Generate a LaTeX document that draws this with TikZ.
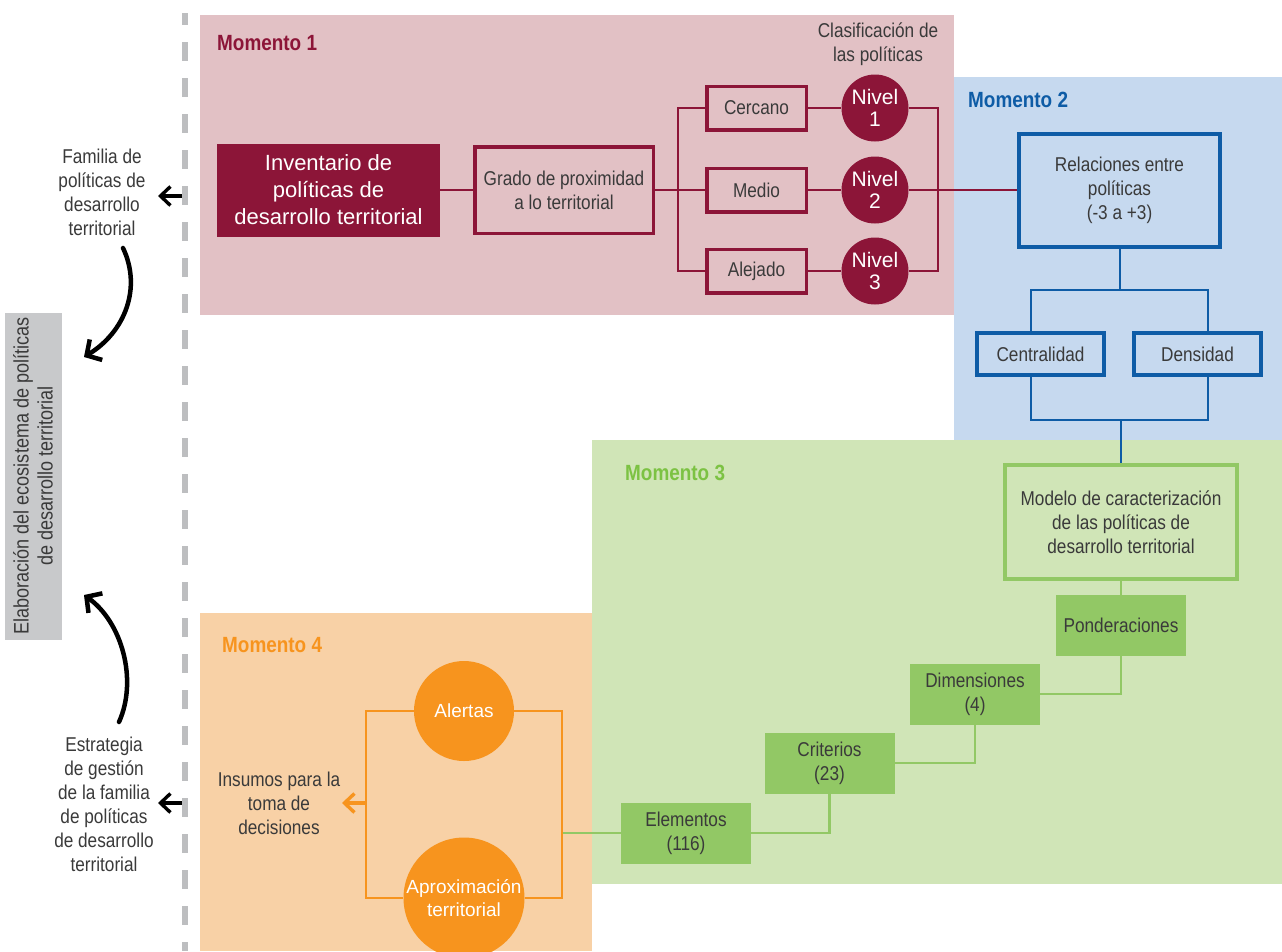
\documentclass[tikz,border=0pt]{standalone}
\usepackage{fontspec}
\setmainfont{Liberation Sans}[FakeStretch=0.86]
\newfontfamily\widefont{Liberation Sans}
\usetikzlibrary{arrows.meta}
\definecolor{mred}{HTML}{8C1538}
\definecolor{mredbg}{HTML}{E2C1C5}
\definecolor{mblue}{HTML}{0E5CA6}
\definecolor{mbluebg}{HTML}{C6D9EF}
\definecolor{mgreen}{HTML}{92C865}
\definecolor{mgreentxt}{HTML}{7CC243}
\definecolor{mgreenbg}{HTML}{D0E5B7}
\definecolor{morange}{HTML}{F7941E}
\definecolor{morangebg}{HTML}{F8D1A6}
\definecolor{mgray}{HTML}{C8C9CB}
\definecolor{mdash}{HTML}{BDBEC0}
\definecolor{mtext}{HTML}{3A3A3A}
\begin{document}
\begin{tikzpicture}[x=1pt,y=-1pt,
  txt/.style={text=mtext,align=center,inner sep=0pt,font=\fontsize{20}{24}\selectfont},
  title/.style={anchor=west,inner sep=0pt,font=\fontsize{22}{24}\selectfont\bfseries},
  redbox/.style={txt,draw=mred,line width=3.5pt},
  bluebox/.style={txt,draw=mblue,line width=4pt},
  greenbox/.style={txt,fill=mgreen,minimum width=130pt,minimum height=61pt},
  nivel/.style={circle,fill=mred,text=white,minimum size=67pt,inner sep=0pt,align=center,font=\widefont\fontsize{21}{22}\selectfont},
  ocirc/.style={circle,fill=morange,text=white,inner sep=0pt,align=center,font=\widefont\fontsize{19}{23}\selectfont},
  redline/.style={draw=mred,line width=2.3pt},
  blueline/.style={draw=mblue,line width=2pt},
  greenline/.style={draw=mgreen,line width=2.8pt},
  oline/.style={draw=morange,line width=2.8pt},
  barb/.style={-{Straight Barb[length=10pt,width=19pt]},line width=3.4pt},
  bigbarb/.style={-{Straight Barb[length=11pt,width=24pt]},line width=4.5pt,line cap=round}]
  \useasboundingbox (0,0) rectangle (1282,951);
  \clip (0,0) rectangle (1282,951);
  % panels
  \fill[mredbg] (200,15) rectangle (954,315);
  \fill[mbluebg] (954,77) rectangle (1282,440);
  \fill[mgreenbg] (592,440) rectangle (1282,884);
  \fill[morangebg] (200,613) rectangle (592,951);
  \draw[mdash,line width=6pt,dash pattern=on 19pt off 17pt,dash phase=7pt] (185,13) -- (185,951);
  % left side
  \fill[mgray] (5,313) rectangle (62,640);
  \node[txt,rotate=90,font=\fontsize{21}{24}\selectfont] (elab) at (33,476) {Elaboración del ecosistema de políticas\\de desarrollo territorial};
  \node[txt] (fam) at (102,192) {Familia de\\políticas de\\desarrollo\\territorial};
  \node[txt] (estr) at (104,804) {Estrategia\\de gestión\\de la familia\\de políticas\\de desarrollo\\territorial};
  \coordinate (d1) at (182,196);
  \coordinate (t1) at (158,196);
  \coordinate (d2) at (182,803);
  \coordinate (t2) at (158,803);
  \draw[barb] (d1) -- (t1);
  \draw[barb] (d2) -- (t2);
  \coordinate (c1) at (123,248);
  \coordinate (c2) at (84,357);
  \coordinate (c3) at (119,722);
  \coordinate (c4) at (84,595);
  \draw[bigbarb] (c1) .. controls (142,288) and (125,332) .. (c2);
  \draw[bigbarb] (c3) .. controls (138,680) and (122,622) .. (c4);
  % momento 1
  \node[title,text=mred] (m1) at (217,43) {Momento 1};
  \node[txt,fill=mred,text=white,minimum width=223pt,minimum height=93pt,font=\widefont\fontsize{22}{27}\selectfont] (inv) at (328.5,190) {Inventario de\\políticas de\\desarrollo territorial};
  \node[redbox,minimum width=178.5pt,minimum height=86.5pt] (grado) at (564,190) {Grado de proximidad\\a lo territorial};
  \node[redbox,minimum width=99.5pt,minimum height=43.5pt] (cerc) at (756.5,108) {Cercano};
  \node[redbox,minimum width=99.5pt,minimum height=43.5pt] (medio) at (756.5,190) {Medio};
  \node[redbox,minimum width=99.5pt,minimum height=43.5pt] (alej) at (756.5,271) {Alejado};
  \node[nivel] (n1) at (875,108) {Nivel\\1};
  \node[nivel] (n2) at (875,190) {Nivel\\2};
  \node[nivel] (n3) at (875,271) {Nivel\\3};
  \node[txt] (clas) at (878,44) {Clasificación de\\las políticas};
  \coordinate (lbus) at (678,190);
  \coordinate (rbus) at (938,190);
  % momento 2
  \node[title,text=mblue] (m2) at (968,100) {Momento 2};
  \node[bluebox,minimum width=201pt,minimum height=113pt] (relac) at (1119.5,190) {Relaciones entre\\políticas\\(-3 a +3)};
  \node[bluebox,minimum width=127pt,minimum height=42pt] (centr) at (1040.5,354) {Centralidad};
  \node[bluebox,minimum width=127pt,minimum height=42pt] (dens) at (1197.5,354) {Densidad};
  \coordinate (tbus) at (1119.5,290);
  \coordinate (bbus) at (1121,420);
  % momento 3
  \node[title,text=mgreentxt] (m3) at (625,473) {Momento 3};
  \node[txt,draw=mgreen,line width=4pt,minimum width=232pt,minimum height=114pt] (model) at (1121,522) {Modelo de caracterización\\de las políticas de\\desarrollo territorial};
  \node[greenbox] (pond) at (1121,625.5) {Ponderaciones};
  \node[greenbox] (dim) at (975,694) {Dimensiones\\(4)};
  \node[greenbox] (crit) at (829.5,763) {Criterios\\(23)};
  \node[greenbox] (elem) at (686,833) {Elementos\\(116)};
  % momento 4
  \node[title,text=morange] (m4) at (222,645) {Momento 4};
  \node[ocirc,minimum size=100pt] (alert) at (464,711) {Alertas};
  \node[ocirc,minimum size=121pt] (aprox) at (464,898) {Aproximación\\territorial};
  \node[txt] (insum) at (279,803) {Insumos para la\\toma de\\decisiones};
  \coordinate (oleft) at (366,803);
  \coordinate (otip) at (342,803);
  \coordinate (oright) at (562,833);
  % connectors
  \draw[redline] (inv) -- (grado);
  \draw[redline] (grado) -- (medio);
  \draw[redline] (cerc.west) -| (lbus) |- (alej.west);
  \draw[redline] (cerc) -- (n1);
  \draw[redline] (medio) -- (n2);
  \draw[redline] (alej) -- (n3);
  \draw[redline] (n1.east) -| (rbus) |- (n3.east);
  \draw[redline] (n2) -- (relac);
  \draw[blueline] (relac) -- (tbus);
  \draw[blueline] ([xshift=-9.5pt]centr.north) |- (tbus) -| ([xshift=10.5pt]dens.north);
  \draw[blueline] ([xshift=-9.5pt]centr.south) |- (bbus) -| ([xshift=10.5pt]dens.south);
  \draw[blueline] (bbus) -- (model);
  \draw[greenline] (model) -- (pond);
  \draw[greenline] (pond.south) |- (dim.east);
  \draw[greenline] (dim.south) |- (crit.east);
  \draw[greenline] (crit.south) |- (elem.east);
  \draw[greenline] (elem) -- (oright);
  \draw[oline] (alert.west) -| (oleft) |- (aprox.west);
  \draw[oline] (alert.east) -| (oright) |- (aprox.east);
  \draw[oline,barb] (oleft) -- (otip);
\end{tikzpicture}
\end{document}
